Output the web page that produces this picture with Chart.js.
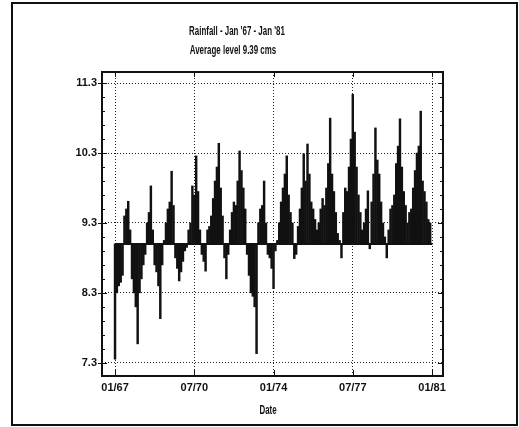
<!DOCTYPE html>
<html lang="en">
<head>
  <meta charset="UTF-8">
  <title>Rainfall - Jan '67 - Jan '81</title>
  <script src="https://cdn.jsdelivr.net/npm/chart.js"></script>
  <style>
    body { margin: 0; background: #fff; }
    .wrap { position: relative; width: 519px; height: 427px; }
    .frame { position: absolute; left: 11px; top: 2px; width: 503px; height: 420px; border: 2px solid #111; }
    .txt { position: absolute; width: 200px; text-align: center; color: #111;
           font: bold 12px 'Liberation Sans', Arial, sans-serif; line-height: 13px; transform: scaleX(0.66); }
    canvas { position: absolute; left: 0; top: 0; }
  </style>
</head>
<body>
  <div class="wrap">
    <div class="frame"></div>
    <canvas id="chart" width="519" height="427"></canvas>
    <div class="txt" style="left:137px; top:25px;">Rainfall - Jan '67 - Jan '81</div>
    <div class="txt" style="left:133px; top:44px;">Average level 9.39 cms</div>
    <div class="txt" style="left:168px; top:404px;">Date</div>
  </div>

  <script>
    // monthly level, Jan 67 .. Jan 81 (one row per year)
    const monthlyLevel = [
      7.35, 8.3, 8.4, 8.45, 8.55, 9.4, 9.5, 9.61, 9.2, 8.5, 8.3, 8.1,
      7.57, 8.3, 8.5, 8.7, 8.85, 9.3, 9.45, 9.83, 9.2, 8.7, 8.6, 8.4,
      7.93, 8.7, 9.05, 9.3, 9.5, 9.6, 10.04, 9.55, 8.8, 8.65, 8.47, 8.6,
      8.75, 8.9, 8.95, 9.2, 9.3, 9.83, 9.7, 10.26, 9.75, 9.2, 8.85, 8.75,
      8.61, 9.2, 9.25, 9.4, 9.65, 9.9, 10.1, 10.44, 9.8, 9.4, 8.8, 8.5,
      8.85, 9.2, 9.45, 9.6, 9.55, 9.9, 10.33, 10.05, 9.8, 9.5, 8.85, 8.55,
      8.3, 8.25, 8.1, 7.43, 9.3, 9.5, 9.55, 9.9, 9.3, 8.85, 8.8, 8.65,
      8.36, 8.9, 9.05, 9.3, 9.6, 9.8, 10.0, 10.26, 9.7, 9.45, 9.3, 8.79,
      8.85, 9.25, 9.5, 9.8, 10.29, 9.9, 10.43, 10.0, 9.6, 9.5, 9.35, 9.2,
      9.3, 9.5, 9.65, 9.55, 9.8, 10.15, 10.8, 10.0, 9.75, 9.45, 9.15, 9.05,
      8.8, 9.45, 9.8, 9.75, 10.1, 10.5, 11.14, 10.6, 10.1, 9.7, 9.45, 9.2,
      9.3, 9.5, 9.76, 8.93, 9.6, 10.0, 10.66, 10.2, 10.0, 9.6, 9.3, 9.1,
      8.8, 9.2, 9.5, 9.55, 9.7, 10.15, 10.4, 10.79, 10.1, 9.75, 9.55, 9.3,
      9.45, 9.5, 9.8, 10.05, 10.3, 10.4, 10.9, 9.9, 9.75, 9.6, 9.35, 9.3,
      9.0
    ];
    const baseLevel = 9.0;

    const xTickMonths = [0, 42, 84, 126, 168];
    const xTickLabels = ['01/67', '07/70', '01/74', '07/77', '01/81'];
    const yTicks = [7.3, 8.3, 9.3, 10.3, 11.3];

    const tickFont = { family: "'Liberation Sans', Arial, sans-serif", size: 11, weight: 'bold' };

    // frame, inward ticks and the base line
    const framePlugin = {
      id: 'frame',
      afterDraw(chart) {
        const { ctx, chartArea: a, scales: { x, y } } = chart;
        ctx.save();
        ctx.strokeStyle = '#111';
        ctx.lineWidth = 1;
        ctx.beginPath();
        for (let v = 7.3; v <= 11.31; v += 0.2) {
          const py = Math.round(y.getPixelForValue(v)) + 0.5;
          const major = Math.abs((v - 7.3) % 1) < 0.01 || Math.abs((v - 7.3) % 1 - 1) < 0.01;
          const len = major ? 5 : 3;
          ctx.moveTo(a.left - (major ? 4 : 0), py); ctx.lineTo(a.left + len, py);
          ctx.moveTo(a.right - len, py); ctx.lineTo(a.right, py);
        }
        xTickMonths.forEach(m => {
          const px = Math.round(x.getPixelForValue(m)) + 0.5;
          ctx.moveTo(px, a.top); ctx.lineTo(px, a.top + 5);
          ctx.moveTo(px, a.bottom); ctx.lineTo(px, a.bottom - 6);
        });
        ctx.stroke();

        ctx.lineWidth = 2;
        ctx.strokeRect(a.left, a.top, a.right - a.left, a.bottom - a.top);

        const by = y.getPixelForValue(baseLevel);
        ctx.beginPath();
        ctx.moveTo(x.getPixelForValue(0), by);
        ctx.lineTo(x.getPixelForValue(monthlyLevel.length - 1), by);
        ctx.stroke();
        ctx.restore();
      }
    };

    new Chart(document.getElementById('chart'), {
      type: 'bar',
      data: {
        datasets: [{
          data: monthlyLevel.map((v, i) => ({ x: i, y: v })),
          base: baseLevel,
          backgroundColor: '#111',
          barThickness: 1.8
        }]
      },
      options: {
        responsive: false,
        animation: false,
        layout: { padding: { left: 0, right: 76, top: 72, bottom: 31 } },
        plugins: { legend: { display: false }, tooltip: { enabled: false } },
        scales: {
          x: {
            type: 'linear',
            offset: false,
            min: -6.9,
            max: 173.8,
            afterBuildTicks: s => { s.ticks = xTickMonths.map(v => ({ value: v })); },
            afterFit: s => { s.height = 20; },
            ticks: {
              padding: 5,
              color: '#111',
              font: tickFont,
              maxRotation: 0,
              autoSkip: false,
              callback: v => xTickLabels[xTickMonths.indexOf(v)]
            },
            grid: { color: '#222', lineWidth: 1, drawTicks: false, offset: false },
            border: { display: false, dash: [1, 2] }
          },
          y: {
            min: 7.11,
            max: 11.46,
            afterBuildTicks: s => { s.ticks = yTicks.map(v => ({ value: v })); },
            afterFit: s => { s.width = 102; },
            ticks: {
              padding: 5,
              color: '#111',
              font: tickFont,
              callback: v => v.toFixed(1)
            },
            grid: { color: '#222', lineWidth: 1, drawTicks: false },
            border: { display: false, dash: [1, 2] }
          }
        }
      },
      plugins: [framePlugin]
    });
  </script>
</body>
</html>
